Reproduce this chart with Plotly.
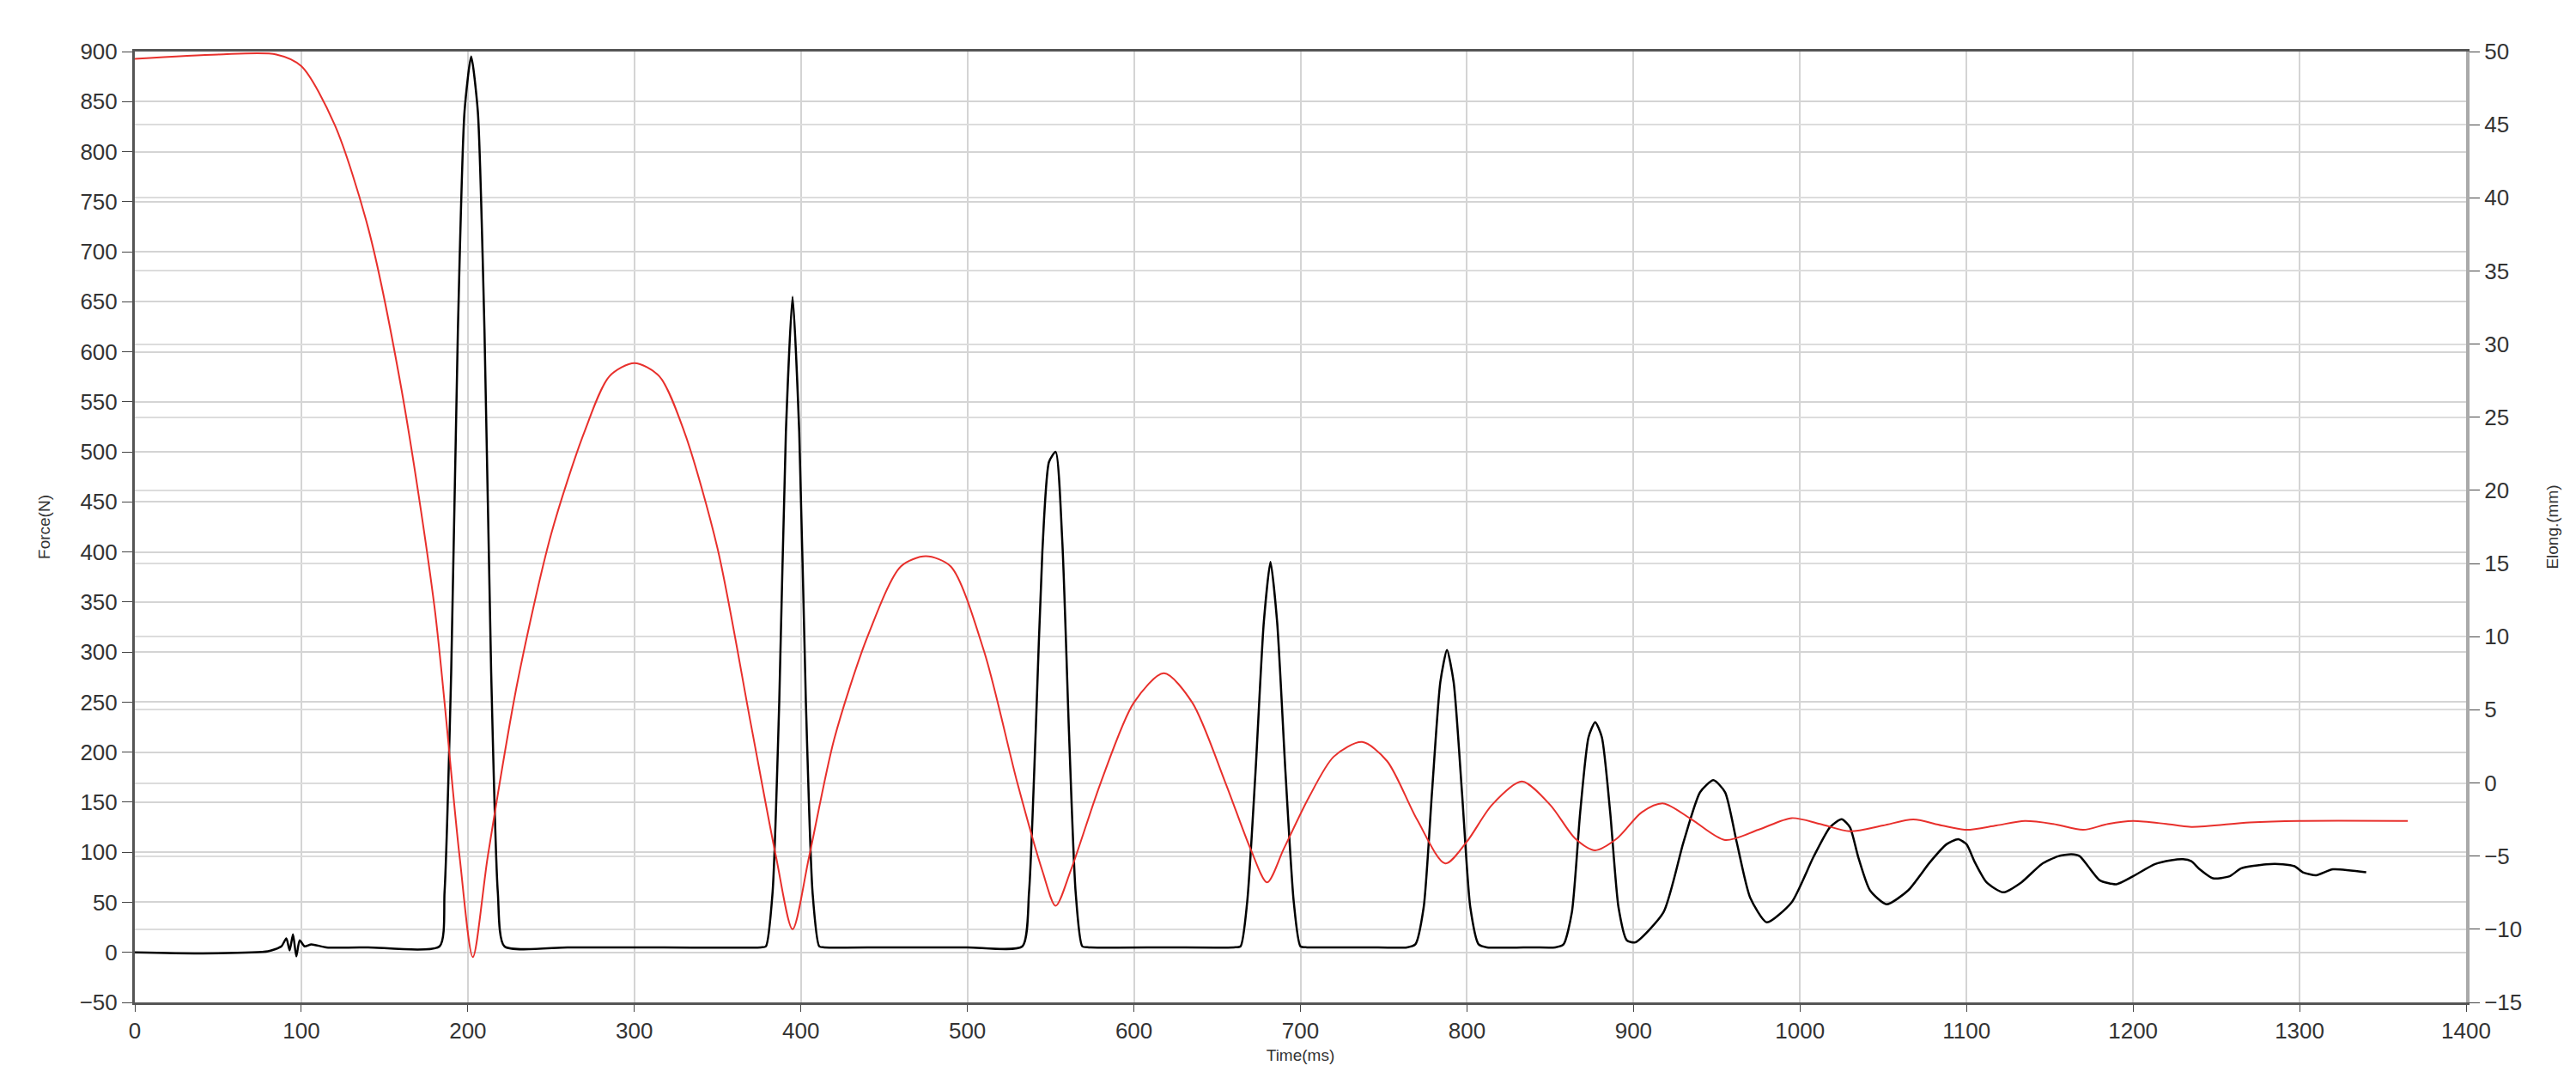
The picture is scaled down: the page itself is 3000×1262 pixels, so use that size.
import plotly.graph_objects as go

# Elongation (red, right axis)
elong_t = [0,50,85,100,120,140,160,180,195,203,212,230,250,270,285,300,315,330,350,370,385,395,405,420,440,460,475,490,510,530,545,553,562,580,600,618,635,655,670,680,690,705,720,737,752,770,787,800,815,833,850,865,877,890,905,918,935,955,975,995,1012,1030,1050,1068,1085,1100,1118,1135,1152,1170,1185,1200,1220,1235,1270,1300,1365]
elong_v = [49.5,49.8,49.8,49,45,38,27,12,-5,-11.9,-5,7,17,24,27.8,28.7,27.8,24,16,4,-5,-10,-5,3,10,14.8,15.5,14.8,9,0,-6,-8.4,-6,0,5.5,7.5,5.5,0,-4.5,-6.8,-4.5,-1,1.8,2.8,1.5,-2.5,-5.5,-4,-1.5,0.1,-1.5,-3.8,-4.6,-3.8,-2,-1.4,-2.5,-3.9,-3.2,-2.4,-2.8,-3.3,-2.9,-2.5,-2.9,-3.2,-2.9,-2.6,-2.8,-3.2,-2.8,-2.6,-2.8,-3.0,-2.7,-2.6,-2.6]

# Force (black, left axis)
force_t = [0,40,80,88,91,93,95,97,99,102,106,115,140,183,186,190,194,198,202,206,210,214,218,222,260,300,376,379,383,387,391,395,399,403,407,411,414,450,500,533,537,541,545,549,553,557,561,565,569,573,620,660,664,668,673,678,682,686,691,696,700,704,740,764,769,774,779,784,788,792,797,802,807,812,840,853,858,863,868,873,877,881,886,891,896,901,918,930,940,948,955,962,970,980,995,1008,1018,1025,1030,1035,1042,1052,1065,1078,1088,1095,1100,1105,1112,1122,1133,1145,1155,1163,1168,1173,1180,1190,1200,1213,1223,1230,1235,1240,1248,1258,1265,1280,1290,1297,1302,1310,1320,1340,1355,1365]
force_v = [0,-1,1,6,14,2,18,-4,12,6,8,5,5,6,60,280,620,840,895,840,620,280,60,6,5,5,5,6,60,250,520,655,520,250,60,6,5,5,5,6,60,220,400,490,500,410,220,60,6,5,5,5,6,50,180,330,390,330,180,50,6,5,5,5,8,45,160,270,302,270,160,45,8,5,5,5,8,40,140,215,230,215,140,45,12,10,40,110,160,172,160,110,55,30,50,95,125,133,125,95,62,48,62,90,108,113,108,90,70,60,70,88,96,98,96,86,72,68,76,88,92,93,91,83,74,76,84,88,88,86,80,77,83,80]

fig = go.Figure()
fig.add_trace(go.Scatter(x=force_t, y=force_v, mode="lines", line=dict(color="black", width=2.5, shape="spline", smoothing=0.6),
                         showlegend=False))
fig.add_trace(go.Scatter(x=elong_t, y=elong_v, mode="lines", line=dict(color="#e8302c", width=2, shape="spline", smoothing=0.8),
                         yaxis="y2", showlegend=False))

font = dict(family="Liberation Sans, Arial", size=26, color="#333")
fig.update_layout(
    width=3000, height=1262,
    margin=dict(l=149, r=136, t=52, b=103),
    plot_bgcolor="white", paper_bgcolor="white",
    font=font,
    xaxis=dict(range=[0,1400], dtick=100, showgrid=True, gridcolor="#d4d4d4", gridwidth=2,
               ticks="outside", ticklen=8, showline=True, linecolor="#555", linewidth=3, mirror=True,
               zeroline=False, title=dict(text="Time(ms)", font=dict(size=19), standoff=8)),
    yaxis=dict(range=[-50,900], dtick=50, showgrid=True, gridcolor="#d4d4d4", gridwidth=2,
               ticks="outside", ticklen=12, showline=True, linecolor="#555", linewidth=3,
               zeroline=False, title=dict(text="Force(N)", font=dict(size=19), standoff=30)),
    yaxis2=dict(range=[-15,50], dtick=5, overlaying="y", side="right", showgrid=True,
                gridcolor="#dcdcdc", gridwidth=2, ticks="outside", ticklen=12, showline=True,
                linecolor="#aaa", linewidth=4, zeroline=False,
                title=dict(text="Elong.(mm)", font=dict(size=19), standoff=30)),
)
fig.write_html("out.html")
